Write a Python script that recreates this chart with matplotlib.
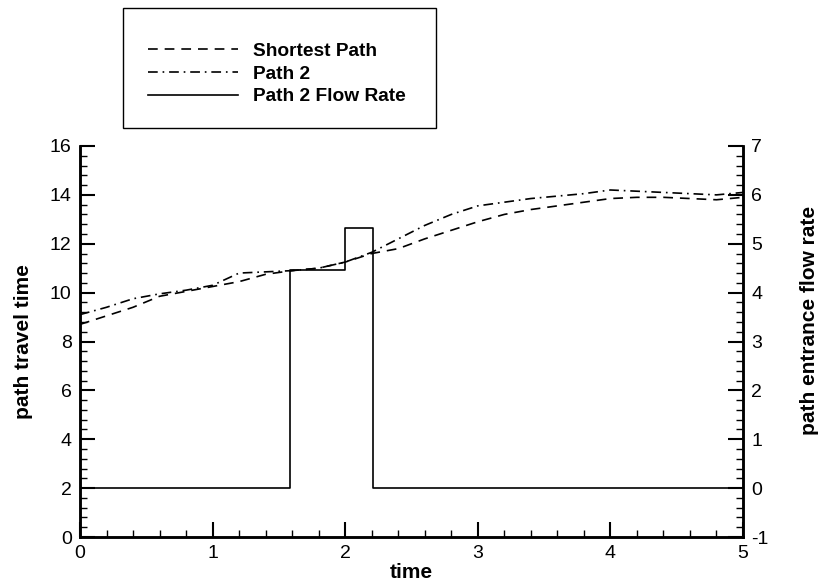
import matplotlib
matplotlib.use('Agg')
import matplotlib.pyplot as plt
from matplotlib.patches import Rectangle
from matplotlib.ticker import MultipleLocator

plt.rcParams['font.family'] = ['Liberation Sans', 'DejaVu Sans']
plt.rcParams['lines.scale_dashes'] = False
plt.rcParams['axes.unicode_minus'] = False

# travel times
t = [0, 0.2, 0.4, 0.6, 0.8, 1.0, 1.2, 1.4, 1.6, 1.8, 2.0, 2.2, 2.4,
     2.6, 2.8, 3.0, 3.2, 3.4, 3.6, 3.8, 4.0, 4.2, 4.4, 4.6, 4.8, 5.0]
shortest = [8.7, 9.05, 9.4, 9.85, 10.05, 10.25, 10.45, 10.75, 10.9, 11.0,
            11.25, 11.6, 11.8, 12.2, 12.55, 12.9, 13.2, 13.4, 13.55, 13.7,
            13.85, 13.9, 13.9, 13.85, 13.8, 13.9]
path2 = [9.1, 9.4, 9.75, 9.95, 10.1, 10.3, 10.8, 10.85, 10.9, 11.0,
         11.25, 11.65, 12.2, 12.75, 13.2, 13.55, 13.7, 13.85, 13.95, 14.05,
         14.2, 14.15, 14.1, 14.05, 14.0, 14.1]

# entrance flow rate (step function)
t_flow = [0, 1.58, 2.0, 2.21, 5.0]
flow = [0, 4.46, 5.33, 0, 0]

fig = plt.figure(figsize=(8.2, 5.88), dpi=100)
ax = fig.add_axes([80/820, 51/588, 663/820, 391/588])
ax2 = ax.twinx()

l1, = ax.plot(t, shortest, color='black', lw=1.2, linestyle=(0, (7, 5)), label='Shortest Path')
l2, = ax.plot(t, path2, color='black', lw=1.2, linestyle=(0, (7, 3.5, 1.2, 3.5)), label='Path 2')
l3, = ax2.plot(t_flow, flow, color='black', lw=1.2, drawstyle='steps-post', label='Path 2 Flow Rate')

ax.set_xlim(0, 5)
ax.set_ylim(0, 16)
ax2.set_ylim(-1, 7)

ax.xaxis.set_major_locator(MultipleLocator(1))
ax.xaxis.set_minor_locator(MultipleLocator(0.2))
ax.yaxis.set_major_locator(MultipleLocator(2))
ax.yaxis.set_minor_locator(MultipleLocator(0.4))
ax2.yaxis.set_major_locator(MultipleLocator(1))
ax2.yaxis.set_minor_locator(MultipleLocator(0.2))

for a in (ax, ax2):
    a.spines['top'].set_visible(False)
    for s in ('left', 'right', 'bottom'):
        a.spines[s].set_linewidth(1.8)
    a.tick_params(which='major', direction='in', length=11, width=1.5, labelsize=14, pad=6)
    a.tick_params(which='minor', direction='in', length=5, width=1)

ax.set_xlabel('time', fontsize=15, fontweight='bold')
ax.set_ylabel('path travel time', fontsize=15, fontweight='bold')
ax2.set_ylabel('path entrance flow rate', fontsize=15, fontweight='bold')
ax.xaxis.set_label_coords(0.5, -0.066)
ax.yaxis.set_label_coords(-0.071, 0.5)
ax2.yaxis.set_label_coords(1.086, 0.555)

# legend box
fig.patches.append(Rectangle((122.7/820, 1 - 128/588), (436 - 122.7)/820, (128 - 8.3)/588,
                             transform=fig.transFigure, fill=False, lw=1, color='black'))
fig.legend(handles=[l1, l2, l3], loc='center left', bbox_to_anchor=(148/820, 1 - 74/588),
           frameon=False, borderpad=0, borderaxespad=0, handlelength=4.7,
           handletextpad=0.78, labelspacing=0.28,
           prop={'size': 13.8, 'weight': 'bold'})

fig.savefig('out.png', dpi=100)
